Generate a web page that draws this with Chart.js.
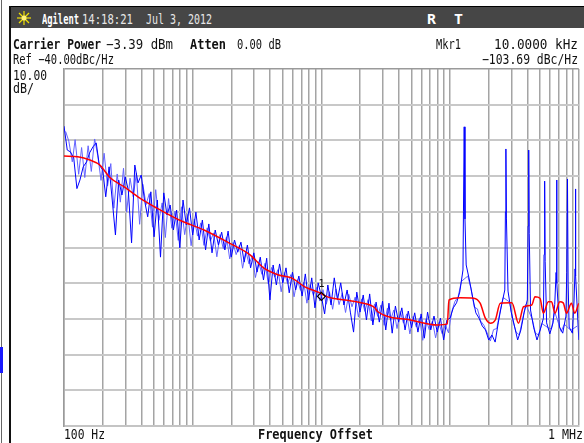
<!DOCTYPE html>
<html>
<head>
<meta charset="utf-8">
<script src="https://cdn.jsdelivr.net/npm/chart.js@4.4.0/dist/chart.umd.min.js"></script>
<style>
  html, body { margin: 0; padding: 0; background: #fff; }
  #screen { position: relative; width: 584px; height: 443px; overflow: hidden; background: #fff; }
  #chart { position: absolute; left: 0; top: 0; }
  .bar { position: absolute; left: 10px; top: 6px; width: 574px; height: 21px; background: #464646; border-top: 1px solid #000; }
  .edge { position: absolute; left: 9px; top: 6px; width: 2px; height: 437px; background: #111; }
  .side { position: absolute; left: 1px; top: 0; width: 1px; height: 443px; background: #666; }
  .blip { position: absolute; left: 0; top: 347px; width: 3px; height: 26px; background: #1a1aff; }
  .lbl { position: absolute; font-family: "DejaVu Sans Mono", monospace; font-size: 13.5px; line-height: 14px;
         white-space: nowrap; transform-origin: 0 0; color: #111; }
  .b { font-weight: bold; }
  .w { color: #fff; }
  .g { color: #e6e6e6; }
  #mk { font-size: 10px; line-height: 10px; }
</style>
</head>
<body>
<div id="screen">
  <canvas id="chart" width="584" height="443"></canvas>
  <div class="side"></div>
  <div class="blip"></div>
  <div class="bar"></div>
  <div class="edge"></div>
  <svg style="position:absolute;left:16px;top:10px" width="16" height="16" viewBox="0 0 16 16">
    <g stroke="#f0e000" stroke-width="1.2">
      <line x1="8" y1="1" x2="8" y2="15"/><line x1="1" y1="8" x2="15" y2="8"/>
      <line x1="3" y1="3" x2="13" y2="13"/><line x1="13" y1="3" x2="3" y2="13"/>
    </g>
    <circle cx="8" cy="8" r="2.5" fill="#fff27a"/>
  </svg>

  <div class="lbl b w" style="left:42px;top:12px" data-w="37">Agilent</div>
  <div class="lbl g" style="left:82px;top:12px" data-w="51">14:18:21</div>
  <div class="lbl g" style="left:146px;top:12px" data-w="66">Jul 3, 2012</div>
  <div class="lbl b w" style="left:427px;top:12px" data-w="9">R</div>
  <div class="lbl b w" style="left:454px;top:12px" data-w="9">T</div>

  <div class="lbl b" style="left:13px;top:37px" data-w="88">Carrier Power</div>
  <div class="lbl" style="left:106px;top:37px" data-w="67">−3.39 dBm</div>
  <div class="lbl b" style="left:190px;top:37px" data-w="36">Atten</div>
  <div class="lbl" style="left:237px;top:37px" data-w="44">0.00 dB</div>
  <div class="lbl" style="left:436px;top:37px" data-w="25">Mkr1</div>
  <div class="lbl" style="left:494px;top:37px" data-w="84">10.0000 kHz</div>
  <div class="lbl" style="left:13px;top:52px" data-w="101">Ref −40.00dBc/Hz</div>
  <div class="lbl" style="left:482px;top:52px" data-w="96">−103.69 dBc/Hz</div>
  <div class="lbl" style="left:13px;top:68px" data-w="34">10.00</div>
  <div class="lbl" style="left:13px;top:81px" data-w="21">dB/</div>

  <div class="lbl" style="left:64px;top:427px" data-w="41">100 Hz</div>
  <div class="lbl b" style="left:258px;top:427px" data-w="115">Frequency Offset</div>
  <div class="lbl" style="left:548px;top:427px" data-w="35">1 MHz</div>
  <div class="lbl" id="mk">1</div>
</div>
<script>
// measured trace (bright blue), Hz offset / dBc/Hz
var noiseHz = [
  100, 106, 112, 119, 126, 133, 141, 150, 158, 168, 178, 188, 200, 211, 224, 237, 251, 266, 282, 299,
  316, 335, 355, 376, 398, 422, 447, 473, 501, 531, 562, 596, 631, 668, 708, 750, 794, 841, 891, 944,
  1000, 1059, 1122, 1189, 1259, 1334, 1413, 1496, 1585, 1679, 1778, 1884, 1995, 2113, 2239, 2371, 2512, 2661, 2818, 2985,
  3162, 3350, 3548, 3758, 3981, 4217, 4467, 4732, 5012, 5309, 5623, 5957, 6310, 6683, 7079, 7499, 7943, 8414, 8913, 9441,
  10000, 10593, 11220, 11885, 12589, 13335, 14125, 14962, 15849, 16788, 17783, 18836, 19953, 21135, 22387, 23714, 25119, 26607, 28184, 29854,
  31623, 33497, 35481, 37584, 39811, 42170, 44668, 47315, 50119, 53088, 56234, 59566, 63096, 66834, 70795, 74989, 79433, 84140, 89125, 94406,
  100000, 105925, 112202, 118850, 125893, 127000, 128700, 130500,
  133352, 141254, 149624, 158489, 167880, 177828, 188365, 199526, 211349, 223872, 237137, 251189, 266073,
  269000, 271400, 274000,
  281838, 298538, 316228, 334965, 354813, 375837, 398107,
  404000, 408300, 412000,
  421697, 446684, 473151, 501187, 530884,
  537000, 542800, 548000,
  562341, 595662, 630957,
  650000, 666000, 671800, 677000,
  707946, 749894, 794328,
  806000, 816600, 826000,
  841395, 891251,
  918000, 935000, 941400, 948000,
  1000000,
];
var noiseDb = [
  -56, -62.7, -63.2, -64.9, -73.5, -71.1, -67.4, -66.0, -63.5, -61.8,
  -60.7, -66.9, -68.3, -75.8, -67.4, -76.7, -86.5, -71.1, -75.3, -70.2,
  -73.9, -88.7, -66.9, -71.9, -69.7, -76.7, -81.4, -74.4, -87.0, -76.7,
  -92.7, -74.7, -80.9, -78.1, -85.1, -79.5, -90.1, -76.7, -83.7, -78.9,
  -86.5, -80.1, -87.9, -82.3, -90.7, -83.4, -91.5, -85.1, -89.3, -85.7,
  -90.7, -85.4, -92.7, -87.9, -91.3, -88.5, -94.1, -89.3, -95.7, -91.5,
  -96.9, -92.7, -99.1, -93.0, -104.7, -94.9, -100.5, -94.6, -99.9, -95.7,
  -102.7, -96.9, -101.9, -98.0, -103.6, -97.4, -104.7, -98.5, -106.9, -99.9,
  -103.7, -108.6, -100.5, -106.1, -98.5, -104.7, -99.9, -106.1, -101.9, -108.1,
  -113.7, -102.5, -108.1, -103.3, -110.3, -103.0, -111.7, -105.3, -110.9, -105.0,
  -113.1, -105.6, -114.0, -106.4, -110.9, -106.9, -113.1, -107.8, -112.5, -108.3,
  -113.7, -108.6, -115.4, -108.1, -113.1, -109.2, -113.7, -109.8, -115.9, -110.3,
  -109.8, -106.9, -105.5, -102.5, -96.3, -80, -56.2, -82,
  -94.9, -99.1, -103.9, -108.3, -109.8, -112.0, -113.1, -115.9, -114.5, -116.5, -110.9, -106.1, -101.9,
  -80, -62.4, -82,
  -102.2, -108.1, -112.0, -115.9, -113.1, -108.3, -104.7,
  -84, -62.7, -86,
  -107.5, -112.5, -115.9, -113.1, -109.8,
  -92, -71.4, -94,
  -111.1, -114.2, -111.1,
  -106, -97, -71.1, -100,
  -112.3, -114.0, -109.2,
  -97, -70.8, -100,
  -112.3, -114.0,
  -105, -96, -73.6, -98,
  -115.9,
];
// second sweep (pale blue), interleaved with the first
var paleHz = [
  103, 109, 116, 122, 130, 137, 145, 154, 163, 173, 183, 194, 205, 218, 231, 244, 259, 274, 290, 307,
  326, 345, 365, 387, 410, 434, 460, 487, 516, 546, 579, 613, 649, 688, 729, 772, 818, 866, 917, 972,
  1029, 1090, 1155, 1223, 1296, 1372, 1454, 1540, 1631, 1728, 1831, 1939, 2054, 2176, 2305, 2442, 2587, 2738, 2901, 3073,
  3256, 3449, 3652, 3869, 4099, 4342, 4600, 4870, 5158, 5464, 5788, 6131, 6494, 6879, 7287, 7720, 8178, 8660, 9174, 9718,
  10290, 10900, 11550, 12230, 12960, 13720, 14540, 15400, 16310, 17280, 18310, 19390, 20540, 21760, 23050, 24420, 25870, 27380, 29010, 30730,
  32560, 34490, 36520, 38690, 40990, 43420, 46000, 48700, 51580, 54640, 57880, 61310, 64940, 68790, 72870, 77200, 81780, 86600, 91740, 97180,
  102900, 109000, 115500, 122300, 137200, 145400, 154000, 163100, 172800, 183100, 193900, 205400, 217600, 230500, 244200, 258700,
  290100, 307300, 325600, 344900, 365200, 386900, 434200, 460000, 487000, 515800, 578800, 613100, 649400, 728700, 772000, 866000, 971800,
];
var paleDb = [
  -57.5, -60.2, -66.0, -59.8, -69.5, -62.0, -70.4, -61.5, -68.7, -59.6,
  -64.3, -71.2, -63.6, -72.8, -66.5, -79.0, -69.4, -77.3, -67.8, -80.1,
  -70.6, -75.8, -69.2, -83.5, -72.3, -78.0, -74.9, -84.3, -73.8, -82.4,
  -77.5, -87.2, -76.3, -84.6, -79.8, -88.0, -78.6, -86.4, -80.7, -89.5,
  -82.0, -86.8, -83.1, -89.4, -84.5, -88.2, -85.9, -92.6, -86.4, -90.3,
  -87.0, -93.2, -88.6, -92.0, -89.4, -95.8, -91.0, -94.6, -92.5, -98.4,
  -94.0, -97.5, -94.4, -100.2, -95.6, -98.3, -96.2, -102.4, -97.0, -100.1,
  -97.6, -103.8, -99.0, -102.0, -99.8, -105.6, -100.4, -103.4, -101.2, -105.0,
  -101.8, -105.9, -102.4, -107.3, -101.6, -106.0, -102.7, -108.2, -103.1, -106.6,
  -103.9, -109.5, -104.4, -107.9, -104.6, -110.6, -105.8, -109.3, -106.1, -111.8,
  -107.0, -110.4, -107.5, -112.7, -107.9, -111.2, -108.6, -114.2, -109.3, -112.3,
  -109.7, -116.0, -110.0, -113.0, -110.6, -115.3, -111.0, -114.1, -111.7, -113.9,
  -108.0, -105.1, -103.8, -99.5, -98.0, -101.5, -106.7, -107.2, -110.6, -111.8, -113.9, -116.2, -113.0, -112.7, -108.0, -104.0,
  -105.3, -110.4, -113.7, -114.5, -110.2, -106.0, -110.0, -114.0, -114.5, -111.3, -112.5, -112.8, -108.0, -113.5, -111.5, -113.2, -112.0,
];
// smoothed trace (red)
var avgHz = [
  100, 128, 159, 190, 226, 296, 386, 522, 785, 1224, 1910, 2773, 3556, 4645, 5847, 7499, 9441,
  11272, 15263, 20286, 26020, 27420, 49300, 79650, 95100, 98000, 119900, 152900, 171100, 187900,
  205300, 224500, 245300, 302000, 340100, 371800, 430800, 456700, 499300, 530300, 579700, 614600,
  651700, 712100, 756600, 802300, 876700, 929900, 1000000,
];
var avgDb = [
  -64.4, -64.6, -65.5, -66.9, -70.3, -73.1, -76.1, -78.9, -82.3, -85.1, -88.7, -92.0, -95.7, -97.7, -98.5, -101.1, -102.5,
  -103.9, -104.7, -105.5, -106.9, -108.0, -110.3, -111.7, -111.4, -104.7, -104.1, -104.2, -105.6, -109.8,
  -111.2, -110.3, -105.6, -105.5, -111.2, -106.6, -106.1, -103.8, -104.2, -108.4, -105.2, -105.2,
  -108.4, -105.2, -105.5, -108.4, -105.6, -108.4, -105.6,
];
var markerHz = [10000];
var markerDb = [-103.69];
var refDb = -40, bottomDb = -140, dbPerDiv = 10;
var decades = [100, 1000, 10000, 100000];

var gridHz = [];
decades.forEach((d) => {
  for (var m = 1; m < 10; m++) gridHz.push(m * d);
});
gridHz.push(1000000);

const toPoints = (xs, ys) => xs.map((x, i) => ({ x: x, y: ys[i] }));

var ctx = document.getElementById("chart").getContext("2d");
var plot = new Chart(ctx, {
  type: "line",
  data: {
    datasets: [
      {
        label: "Mkr1",
        data: toPoints(markerHz, markerDb),
        showLine: false,
        pointStyle: "rectRot",
        pointRadius: 4,
        pointBorderColor: "#000",
        pointBackgroundColor: "rgba(0,0,0,0)",
        pointBorderWidth: 1.2,
        order: 0,
      },
      {
        label: "Smoothed",
        data: toPoints(avgHz, avgDb),
        borderColor: "#ff0000",
        borderWidth: 1.5,
        pointRadius: 0,
        cubicInterpolationMode: "monotone",
        order: 1,
      },
      {
        label: "Trace",
        data: toPoints(noiseHz, noiseDb),
        borderColor: "#0000ff",
        borderWidth: 1,
        pointRadius: 0,
        tension: 0,
        order: 2,
      },
      {
        label: "Trace 2",
        data: toPoints(paleHz, paleDb),
        borderColor: "#6464ff",
        borderWidth: 1,
        pointRadius: 0,
        tension: 0,
        order: 3,
      },
    ],
  },
  options: {
    responsive: false,
    animation: false,
    devicePixelRatio: 1,
    layout: { padding: { left: 64, top: 69, right: 2, bottom: 17 } },
    plugins: { legend: { display: false }, tooltip: { enabled: false } },
    scales: {
      x: {
        type: "logarithmic",
        min: 100,
        max: 1000000,
        afterBuildTicks: (axis) => {
          axis.ticks = gridHz.map((v) => ({ value: v }));
        },
        ticks: { display: false },
        grid: { color: "#a4a4a4", lineWidth: 1.5, drawTicks: false },
        border: { color: "#c4c4c4", width: 2 },
      },
      y: {
        min: bottomDb,
        max: refDb,
        ticks: { display: false, stepSize: dbPerDiv },
        grid: {
          color: (c) => (c.tick && c.tick.value === refDb ? "#9a9a9a" : "#c8c8c8"),
          lineWidth: (c) => (c.tick && c.tick.value === refDb ? 1.5 : 2),
          drawTicks: false,
        },
        border: { color: "#9a9a9a", width: 1.5 },
      },
    },
  },
});

// squeeze labels to the widths of the instrument font
document.querySelectorAll("[data-w]").forEach((el) => {
  var w = el.getBoundingClientRect().width;
  el.style.transform = "scaleX(" + el.dataset.w / w + ")";
});

var mk = document.getElementById("mk");
mk.style.left = plot.scales.x.getPixelForValue(markerHz[0]) - 3 + "px";
mk.style.top = plot.scales.y.getPixelForValue(markerDb[0]) - 17 + "px";
</script>
</body>
</html>
